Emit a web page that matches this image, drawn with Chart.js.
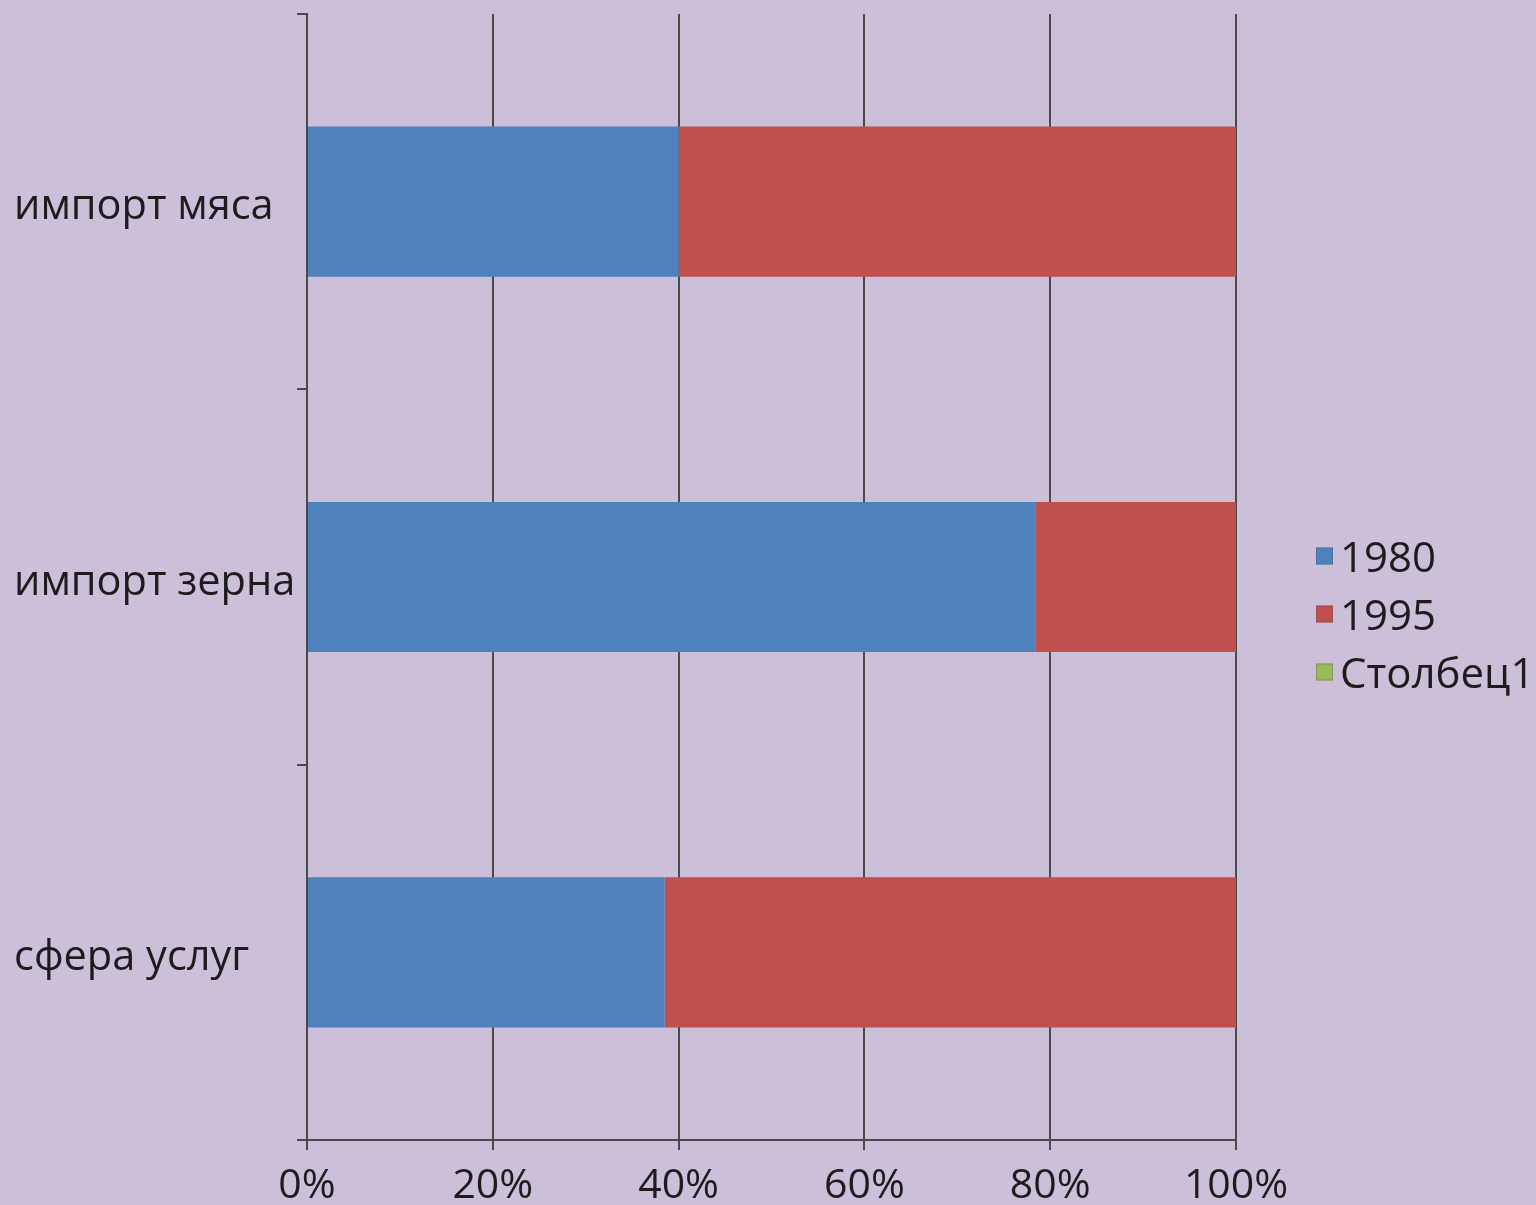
<!DOCTYPE html>
<html><head><meta charset="utf-8">
<script src="https://cdn.jsdelivr.net/npm/chart.js@4"></script>
<style>html,body{margin:0;padding:0;background:#cbbfd9;overflow:hidden}canvas{display:block}</style>
</head><body><canvas id="c" width="1536" height="1205"></canvas>
<script>
const categories = ['импорт мяса', 'импорт зерна', 'сфера услуг'];
const seriesNames = ['1980', '1995', 'Столбец1'];
const values1980 = [40, 78.4, 38.5];
const values1995 = [60, 21.6, 61.5];
const valuesCol1 = [0, 0, 0];
const seriesColors = ['#4f81bd', '#c0504d', '#9bbb59'];
const xTickValues = [0, 20, 40, 60, 80, 100];

const FONT = '"Open Sans", "DejaVu Sans", sans-serif';
const TEXT = '#1c1c1c';
const GRID = '#4a4a4a';

const bgPlugin = {
  id: 'bg',
  beforeDraw(chart) {
    const c = chart.ctx;
    c.save(); c.fillStyle = '#cbbfd9'; c.fillRect(0, 0, chart.width, chart.height); c.restore();
  }
};

const sideLegend = {
  id: 'sideLegend',
  afterDraw(chart) {
    const c = chart.ctx;
    const ds = chart.data.datasets;
    const x0 = chart.chartArea.right + 80;
    const yc = chart.height / 2 + 16;
    const step = 58;
    c.save();
    c.font = '42px ' + FONT;
    c.textBaseline = 'middle';
    c.textAlign = 'left';
    ds.forEach((d, i) => {
      const y = yc + (i - (ds.length - 1) / 2) * step;
      c.fillStyle = d.backgroundColor;
      c.fillRect(x0, y - 13, 17, 17);
      c.strokeStyle = 'rgba(80,80,80,0.35)';
      c.lineWidth = 1;
      c.strokeRect(x0 + 0.5, y - 12.5, 16, 16);
      c.fillStyle = TEXT;
      c.fillText(d.label, x0 + 24, y);
    });
    c.restore();
  }
};

new Chart(document.getElementById('c'), {
  type: 'bar',
  data: {
    labels: categories,
    datasets: [
      { label: seriesNames[0], data: values1980, backgroundColor: seriesColors[0] },
      { label: seriesNames[1], data: values1995, backgroundColor: seriesColors[1] },
      { label: seriesNames[2], data: valuesCol1, backgroundColor: seriesColors[2] }
    ]
  },
  options: {
    indexAxis: 'y',
    responsive: false,
    animation: false,
    devicePixelRatio: 1,
    layout: { padding: { left: 14, top: 14, right: 300, bottom: 0 } },
    datasets: { bar: { barPercentage: 0.4, categoryPercentage: 1.0, borderWidth: 0 } },
    plugins: { legend: { display: false }, tooltip: { enabled: false } },
    scales: {
      x: {
        stacked: true,
        min: 0, max: 100,
        afterBuildTicks(scale) { scale.ticks = xTickValues.map(v => ({ value: v })); },
        afterFit(scale) { scale.height = 65; scale.paddingLeft = 0; scale.paddingRight = 0; },
        ticks: {
          callback: v => v + '%',
          font: { family: FONT, size: 41 },
          color: TEXT,
          padding: 12,
          maxRotation: 0
        },
        grid: { color: GRID, lineWidth: 2, tickLength: 10, drawTicks: true },
        border: { color: GRID, width: 2 }
      },
      y: {
        stacked: true,
        offset: true,
        afterFit(scale) { scale.width = 293; scale.paddingTop = 0; scale.paddingBottom = 0; },
        ticks: {
          crossAlign: 'far',
          font: { family: FONT, size: 41.5 },
          color: TEXT,
          padding: 14,
          labelOffset: 6
        },
        grid: { offset: true, drawOnChartArea: false, drawTicks: true, tickLength: 10, color: GRID, lineWidth: 2 },
        border: { color: GRID, width: 2 }
      }
    }
  },
  plugins: [bgPlugin, sideLegend]
});
</script>
</body></html>
